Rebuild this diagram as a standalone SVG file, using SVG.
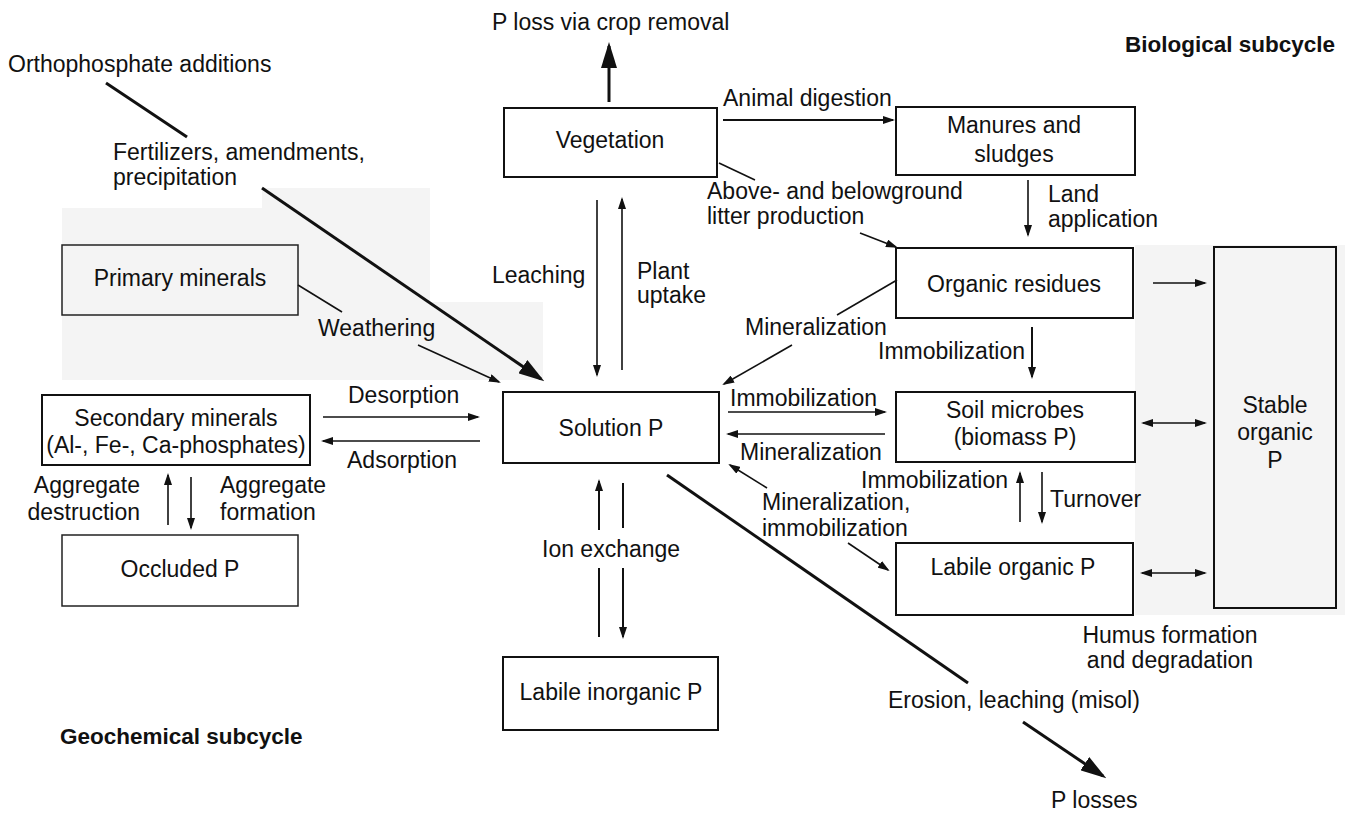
<svg xmlns="http://www.w3.org/2000/svg" width="1345" height="814" viewBox="0 0 1345 814">
  <style>
    text { font-family: "Liberation Sans", Arial, sans-serif; font-size: 23px; fill: #111; }
    .c { text-anchor: middle; }
    .r { text-anchor: end; }
    .title { font-weight: bold; font-size: 22.5px; }
    .box { fill: #fff; stroke: #111; stroke-width: 2; }
    .box-thin { fill: #fff; stroke: #222; stroke-width: 1.5; }
    .shade { fill: #f4f4f4; stroke: none; }
    .ln { fill: none; stroke: #111; stroke-width: 1.6; }
    .med { fill: none; stroke: #111; stroke-width: 2; }
    .thick { fill: none; stroke: #111; stroke-width: 3; }
    .arr { marker-end: url(#ah); }
    .arr2 { marker-start: url(#ah); marker-end: url(#ah); }
    .big { marker-end: url(#ahBig); }
  </style>
  <defs>
    <marker id="ah" markerUnits="userSpaceOnUse" markerWidth="12" markerHeight="8" refX="10" refY="4" orient="auto-start-reverse">
      <path d="M0,0 L12,4 L0,8 z" fill="#111"/>
    </marker>
    <marker id="ahBig" markerUnits="userSpaceOnUse" markerWidth="26" markerHeight="16" refX="22" refY="8" orient="auto">
      <path d="M0,0 L26,8 L0,16 z" fill="#111"/>
    </marker>
  </defs>

  <rect width="1345" height="814" fill="#fff"/>

  <!-- light shaded panels -->
  <polygon class="shade" points="62,208 262,208 262,188 430,188 430,302 543,302 543,380 62,380"/>
  <rect class="shade" x="1135" y="245" width="210" height="370"/>

  <!-- subcycle titles and free labels -->
  <text class="title" x="1125" y="52">Biological subcycle</text>
  <text class="title" x="60" y="744">Geochemical subcycle</text>
  <text x="8" y="72">Orthophosphate additions</text>
  <text x="113" y="160">Fertilizers, amendments,</text>
  <text x="113" y="185">precipitation</text>
  <text x="492" y="30">P loss via crop removal</text>
  <text x="723" y="106">Animal digestion</text>
  <text x="707" y="199">Above- and belowground</text>
  <text x="707" y="224">litter production</text>
  <text x="1048" y="202">Land</text>
  <text x="1048" y="227">application</text>
  <text x="318" y="336">Weathering</text>
  <text x="492" y="283">Leaching</text>
  <text x="637" y="279">Plant</text>
  <text x="637" y="303">uptake</text>
  <text x="745" y="335">Mineralization</text>
  <text x="878" y="359">Immobilization</text>
  <text x="348" y="403">Desorption</text>
  <text x="347" y="468">Adsorption</text>
  <text x="730" y="406">Immobilization</text>
  <text x="740" y="460">Mineralization</text>
  <text class="r" x="1008" y="488">Immobilization</text>
  <text x="1050" y="507">Turnover</text>
  <text x="762" y="510">Mineralization,</text>
  <text x="762" y="536">immobilization</text>
  <text x="542" y="557">Ion exchange</text>
  <text class="r" x="140" y="493">Aggregate</text>
  <text class="r" x="140" y="520">destruction</text>
  <text x="220" y="493">Aggregate</text>
  <text x="220" y="520">formation</text>
  <text class="c" x="1170" y="643">Humus formation</text>
  <text class="c" x="1170" y="668">and degradation</text>
  <text x="888" y="708">Erosion, leaching (misol)</text>
  <text x="1051" y="808">P losses</text>

  <!-- pools -->
  <g id="vegetation">
    <rect class="box" x="504" y="108" width="213" height="69"/>
    <text class="c" x="610" y="148">Vegetation</text>
  </g>
  <g id="manures">
    <rect class="box" x="896" y="107" width="239" height="68"/>
    <text class="c" x="1014" y="133">Manures and</text>
    <text class="c" x="1014" y="162">sludges</text>
  </g>
  <g id="organic-residues">
    <rect class="box" x="896" y="248" width="237" height="70"/>
    <text class="c" x="1014" y="292">Organic residues</text>
  </g>
  <g id="soil-microbes">
    <rect class="box" x="896" y="392" width="239" height="70"/>
    <text class="c" x="1015" y="418">Soil microbes</text>
    <text class="c" x="1015" y="445">(biomass P)</text>
  </g>
  <g id="labile-organic">
    <rect class="box" x="896" y="543" width="237" height="72"/>
    <text class="c" x="1013" y="575">Labile organic P</text>
  </g>
  <g id="stable-organic">
    <rect class="box" x="1214" y="247" width="122" height="361" style="fill:#f4f4f4"/>
    <text class="c" x="1275" y="413">Stable</text>
    <text class="c" x="1275" y="440">organic</text>
    <text class="c" x="1275" y="468">P</text>
  </g>
  <g id="solution-p">
    <rect class="box" x="503" y="392" width="216" height="71"/>
    <text class="c" x="611" y="436">Solution P</text>
  </g>
  <g id="labile-inorganic">
    <rect class="box" x="503" y="657" width="215" height="73"/>
    <text class="c" x="611" y="700">Labile inorganic P</text>
  </g>
  <g id="secondary-minerals">
    <rect class="box" x="42" y="395" width="268" height="70"/>
    <text class="c" x="176" y="426">Secondary minerals</text>
    <text class="c" x="176" y="453">(Al-, Fe-, Ca-phosphates)</text>
  </g>
  <g id="primary-minerals">
    <rect class="box-thin" x="62" y="245" width="236" height="70" style="fill:#f4f4f4"/>
    <text class="c" x="180" y="286">Primary minerals</text>
  </g>
  <g id="occluded-p">
    <rect class="box-thin" x="62" y="535" width="236" height="71"/>
    <text class="c" x="180" y="577">Occluded P</text>
  </g>

  <!-- fluxes -->
  <g id="connectors">
    <path class="thick" d="M106,83 L187,137"/>
    <path class="thick big" d="M262,188 L541,379"/>
    <path class="ln" d="M298,285 L342,312"/>
    <path class="ln arr" d="M418,345 L499,382"/>
    <path class="thick big" d="M609,102 L609,46"/>
    <path class="med arr" d="M723,120 L893,120"/>
    <path class="ln" d="M719,163 L755,180"/>
    <path class="ln arr" d="M860,233 L896,247"/>
    <path class="ln arr" d="M1028,180 L1028,235"/>
    <path class="ln arr" d="M597,200 L597,375"/>
    <path class="ln arr" d="M622,370 L622,199"/>
    <path class="ln" d="M897,280 L837,315"/>
    <path class="ln arr" d="M792,345 L724,384"/>
    <path class="med arr" d="M1032,327 L1032,377"/>
    <path class="ln arr" d="M1153,283 L1205,283"/>
    <path class="ln arr" d="M323,417 L478,417"/>
    <path class="ln arr" d="M480,441 L323,441"/>
    <path class="ln arr" d="M728,412 L885,412"/>
    <path class="ln arr" d="M885,434 L728,434"/>
    <path class="ln arr2" d="M1143,423 L1205,423"/>
    <path class="ln arr" d="M1020,522 L1020,473"/>
    <path class="ln arr" d="M1042,472 L1042,522"/>
    <path class="ln arr" d="M767,488 L730,465"/>
    <path class="ln arr" d="M848,543 L888,570"/>
    <path class="ln arr2" d="M1142,573 L1205,573"/>
    <path class="thick" d="M667,475 L968,683"/>
    <path class="thick big" d="M1023,722 L1103,776"/>
    <path class="med arr" d="M599,637 L599,568 M599,530 L599,481"/>
    <path class="med arr" d="M623,483 L623,528 M623,568 L623,637"/>
    <path class="ln arr" d="M168,525 L168,475"/>
    <path class="ln arr" d="M191,477 L191,528"/>
  </g>
</svg>
